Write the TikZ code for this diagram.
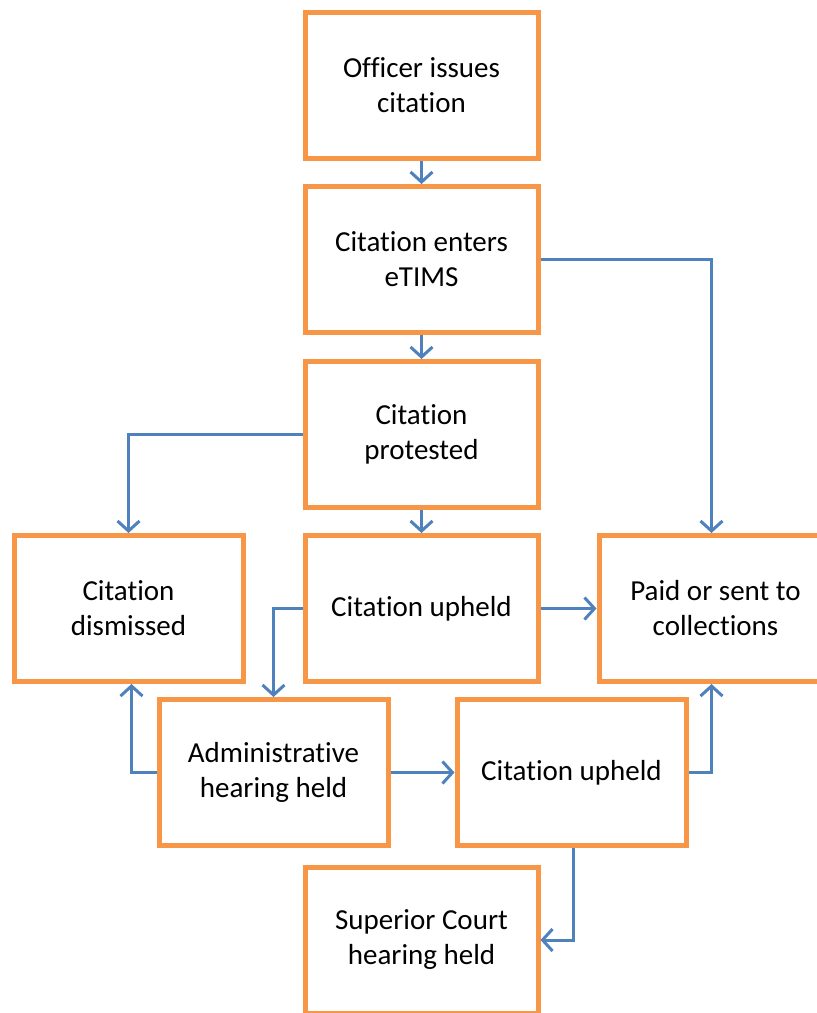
\documentclass[tikz,border=0pt]{standalone}
\usepackage{fontspec}
\setmainfont[Ligatures=NoCommon]{Carlito}
\usetikzlibrary{arrows.meta}
\definecolor{boxorange}{HTML}{F79646}
\definecolor{arrowblue}{HTML}{4F81BD}
\begin{document}
\begin{tikzpicture}[x=1pt,y=1pt,
  box/.style={draw=boxorange, line width=5pt, fill=white, minimum width=233pt, minimum height=146pt, inner sep=0pt, align=center, font=\fontsize{29}{35}\selectfont},
  flow/.style={draw=arrowblue, line width=3pt, -{Straight Barb[length=10pt,width=22pt,line width=3pt]}}]
\useasboundingbox (0,0) rectangle (817,-1013);
\clip (0,0) rectangle (817,-1013);
\node[box] (n1) at (421.5,-85) {Officer issues\\citation};
\node[box] (n2) at (421.5,-259.5) {Citation enters\\eTIMS};
\node[box] (n3) at (421.5,-434.5) {Citation\\protested};
\node[box, minimum width=229pt] (n4) at (128.5,-608.5) {Citation\\dismissed};
\node[box] (n5) at (421.5,-608.5) {Citation upheld};
\node[box] (n6) at (715.5,-608.5) {Paid or sent to\\collections};
\node[box, minimum width=229pt] (n7) at (273.5,-772.5) {Administrative\\hearing held};
\node[box, minimum width=229pt] (n8) at (571.5,-772.5) {Citation upheld};
\node[box] (n9) at (421.5,-940) {Superior Court\\hearing held};
\coordinate (p6n) at ([xshift=-4pt]n6.north);
\coordinate (p6s) at ([xshift=-4pt]n6.south);
\draw[flow] (n1) -- (n2);
\draw[flow] (n2) -- (n3);
\draw[flow] (n2.east) -| (p6n);
\draw[flow] (n3.west) -| (n4.north);
\draw[flow] (n3) -- (n5);
\draw[flow] (n5.east) -- (n6.west);
\draw[flow] (n5.west) -| (n7.north);
\draw[flow] (n7.west) -| ([xshift=3pt]n4.south);
\draw[flow] (n7.east) -- (n8.west);
\draw[flow] (n8.east) -| (p6s);
\draw[flow] ([xshift=1.5pt]n8.south) |- (n9.east);
\end{tikzpicture}
\end{document}
